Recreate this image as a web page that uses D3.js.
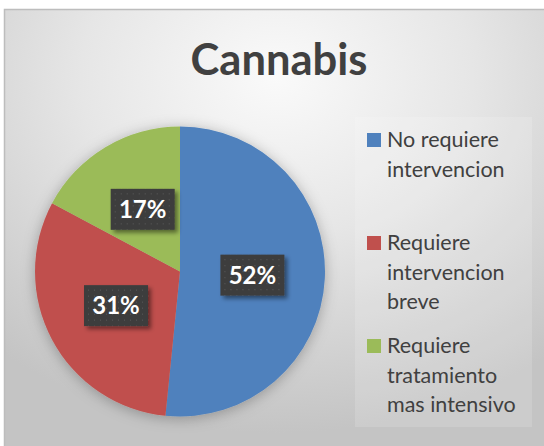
<!DOCTYPE html>
<html>
<head>
<meta charset="utf-8">
<script src="https://cdn.jsdelivr.net/npm/d3@7"></script>
<style>
  body { margin: 0; background: #fff; }
  svg text { font-family: Lato, "Open Sans", sans-serif; }
</style>
</head>
<body>
<div id="root"></div>
<script>
const categories = ["No requiere intervencion", "Requiere intervencion breve", "Requiere tratamiento mas intensivo"];
const legendLines = [["No requiere", "intervencion"], ["Requiere", "intervencion", "breve"], ["Requiere", "tratamiento", "mas intensivo"]];
const values = [51.6, 31.2, 17.2];
const colors = ["#4f81bd", "#c0504d", "#9bbb59"];

const width = 544, height = 446;
const svg = d3.select("#root").append("svg").attr("width", width).attr("height", height);
const defs = svg.append("defs");

const bg = defs.append("radialGradient").attr("id", "bg")
    .attr("cx", "50%").attr("cy", "15%").attr("r", "80%");
bg.append("stop").attr("offset", "0%").attr("stop-color", "#fafafa");
bg.append("stop").attr("offset", "45%").attr("stop-color", "#e6e6e6");
bg.append("stop").attr("offset", "100%").attr("stop-color", "#c4c4c4");

const pieShadow = defs.append("filter").attr("id", "pieShadow")
    .attr("x", "-20%").attr("y", "-20%").attr("width", "140%").attr("height", "140%");
pieShadow.append("feDropShadow").attr("dx", 0).attr("dy", 2).attr("stdDeviation", 7)
    .attr("flood-color", "#000").attr("flood-opacity", 0.28);

const boxShadow = defs.append("filter").attr("id", "boxShadow")
    .attr("x", "-30%").attr("y", "-30%").attr("width", "160%").attr("height", "160%");
boxShadow.append("feDropShadow").attr("dx", 3).attr("dy", 3).attr("stdDeviation", 2)
    .attr("flood-color", "#000").attr("flood-opacity", 0.45);

const dots = defs.append("pattern").attr("id", "dots")
    .attr("width", 6).attr("height", 6).attr("patternUnits", "userSpaceOnUse");
dots.append("rect").attr("width", 6).attr("height", 6).attr("fill", "#3d3d3d");
dots.append("rect").attr("x", 2).attr("y", 2).attr("width", 1).attr("height", 1).attr("fill", "#5a5a5a");

// chart area
svg.append("rect").attr("x", 4.5).attr("y", 9.5).attr("width", width).attr("height", height)
    .attr("fill", "url(#bg)").attr("stroke", "#bdbdbd").attr("stroke-width", 1.5);

svg.append("text").attr("x", 279).attr("y", 75).attr("text-anchor", "middle")
    .attr("font-size", 43.5).attr("font-weight", "bold").attr("fill", "#404040")
    .text("Cannabis");

// legend box
const legend = svg.append("g");
legend.append("rect").attr("x", 355).attr("y", 117).attr("width", 177).attr("height", 310)
    .attr("fill", "#fff").attr("fill-opacity", 0.15);

const legendY = d3.scaleOrdinal().domain(categories).range([147, 250, 353]);
const lineH = 29.5;
categories.forEach((c, i) => {
  const y0 = legendY(c);
  legend.append("rect").attr("x", 367).attr("y", y0 - 14).attr("width", 14).attr("height", 14)
      .attr("fill", colors[i]);
  legendLines[i].forEach((t, j) => {
    legend.append("text").attr("x", 387).attr("y", y0 + j * lineH)
        .attr("font-size", 21.5).attr("fill", "#404040").text(t);
  });
});

// pie
const cx = 180, cy = 271.5, radius = 145;
const pie = d3.pie().sort(null).value(d => d);
const arcs = pie(values);
const arc = d3.arc().innerRadius(0).outerRadius(radius);
const labelArc = d3.arc().innerRadius(radius * 0.5).outerRadius(radius * 0.5);

const g = svg.append("g").attr("transform", `translate(${cx}, ${cy})`);
g.append("g").attr("filter", "url(#pieShadow)")
  .selectAll("path")
  .data(arcs)
  .join("path")
    .attr("d", arc)
    .attr("fill", (d, i) => colors[i]);

const pct = d3.format(".0%");
const labels = g.selectAll("g.lbl")
  .data(arcs)
  .join("g")
    .attr("class", "lbl")
    .attr("transform", d => `translate(${labelArc.centroid(d)})`);

labels.append("rect").attr("x", -32).attr("y", -20.5).attr("width", 64).attr("height", 41)
    .attr("fill", "url(#dots)").attr("filter", "url(#boxShadow)");
labels.append("text").attr("text-anchor", "middle").attr("dy", "0.36em")
    .attr("font-size", 24).attr("font-weight", "bold").attr("fill", "#fff")
    .text(d => pct(Math.round(d.value) / 100));
</script>
</body>
</html>
